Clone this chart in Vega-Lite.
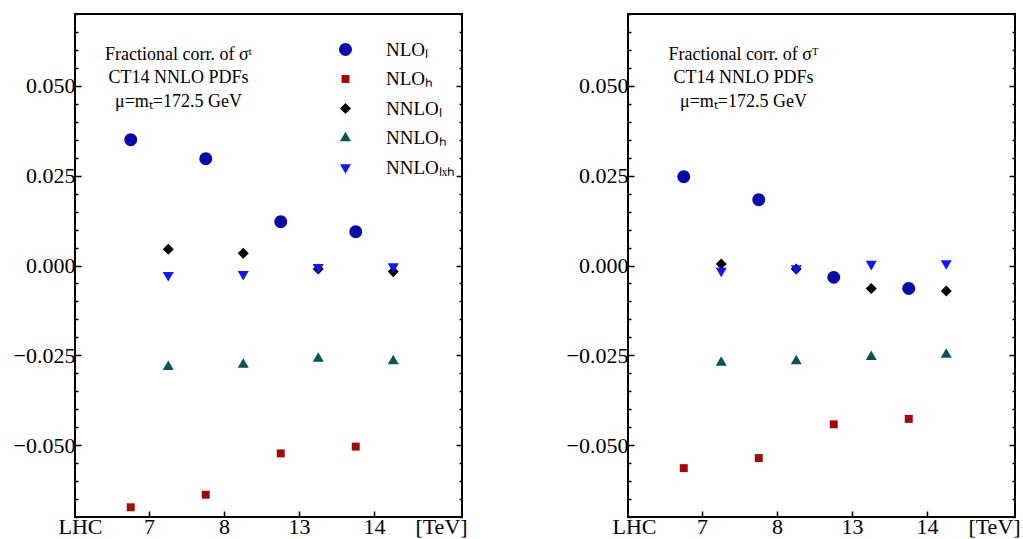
{
  "$schema": "https://vega.github.io/schema/vega-lite/v6.json",
  "background": "white",
  "padding": {"left": 12, "top": 12, "right": 5, "bottom": 0},
  "spacing": 39,
  "config": {
    "view": {"stroke": "black", "strokeWidth": 2},
    "font": "Liberation Serif",
    "axis": {"labelFont": "Liberation Serif", "labelFontSize": 22, "labelColor": "black", "domain": false, "grid": false, "title": null, "tickColor": "black", "tickWidth": 1.5},
    "legend": {"labelFont": "Liberation Serif", "labelFontSize": 19, "labelColor": "black"}
  },
  "datasets": {
    "corr": [
      {"panel": "t", "energy": "7", "order": "NLO", "series": "NLOₗ", "value": 0.0350},
      {"panel": "t", "energy": "8", "order": "NLO", "series": "NLOₗ", "value": 0.0297},
      {"panel": "t", "energy": "13", "order": "NLO", "series": "NLOₗ", "value": 0.0122},
      {"panel": "t", "energy": "14", "order": "NLO", "series": "NLOₗ", "value": 0.0094},
      {"panel": "t", "energy": "7", "order": "NLO", "series": "NLOₕ", "value": -0.0673},
      {"panel": "t", "energy": "8", "order": "NLO", "series": "NLOₕ", "value": -0.0638},
      {"panel": "t", "energy": "13", "order": "NLO", "series": "NLOₕ", "value": -0.0523},
      {"panel": "t", "energy": "14", "order": "NLO", "series": "NLOₕ", "value": -0.0504},
      {"panel": "t", "energy": "7", "order": "NNLO", "series": "NNLOₗ", "value": 0.0045},
      {"panel": "t", "energy": "8", "order": "NNLO", "series": "NNLOₗ", "value": 0.0034},
      {"panel": "t", "energy": "13", "order": "NNLO", "series": "NNLOₗ", "value": -0.0010},
      {"panel": "t", "energy": "14", "order": "NNLO", "series": "NNLOₗ", "value": -0.0017},
      {"panel": "t", "energy": "7", "order": "NNLO", "series": "NNLOₕ", "value": -0.0282},
      {"panel": "t", "energy": "8", "order": "NNLO", "series": "NNLOₕ", "value": -0.0276},
      {"panel": "t", "energy": "13", "order": "NNLO", "series": "NNLOₕ", "value": -0.0259},
      {"panel": "t", "energy": "14", "order": "NNLO", "series": "NNLOₕ", "value": -0.0266},
      {"panel": "t", "energy": "7", "order": "NNLO", "series": "NNLOₗₓₕ", "value": -0.0027},
      {"panel": "t", "energy": "8", "order": "NNLO", "series": "NNLOₗₓₕ", "value": -0.0024},
      {"panel": "t", "energy": "13", "order": "NNLO", "series": "NNLOₗₓₕ", "value": -0.0005},
      {"panel": "t", "energy": "14", "order": "NNLO", "series": "NNLOₗₓₕ", "value": -0.0003},
      {"panel": "T", "energy": "7", "order": "NLO", "series": "NLOₗ", "value": 0.0247},
      {"panel": "T", "energy": "8", "order": "NLO", "series": "NLOₗ", "value": 0.0183},
      {"panel": "T", "energy": "13", "order": "NLO", "series": "NLOₗ", "value": -0.0033},
      {"panel": "T", "energy": "14", "order": "NLO", "series": "NLOₗ", "value": -0.0064},
      {"panel": "T", "energy": "7", "order": "NLO", "series": "NLOₕ", "value": -0.0564},
      {"panel": "T", "energy": "8", "order": "NLO", "series": "NLOₕ", "value": -0.0536},
      {"panel": "T", "energy": "13", "order": "NLO", "series": "NLOₕ", "value": -0.0442},
      {"panel": "T", "energy": "14", "order": "NLO", "series": "NLOₕ", "value": -0.0427},
      {"panel": "T", "energy": "7", "order": "NNLO", "series": "NNLOₗ", "value": 0.0004},
      {"panel": "T", "energy": "8", "order": "NNLO", "series": "NNLOₗ", "value": -0.0010},
      {"panel": "T", "energy": "13", "order": "NNLO", "series": "NNLOₗ", "value": -0.0064},
      {"panel": "T", "energy": "14", "order": "NNLO", "series": "NNLOₗ", "value": -0.0071},
      {"panel": "T", "energy": "7", "order": "NNLO", "series": "NNLOₕ", "value": -0.0270},
      {"panel": "T", "energy": "8", "order": "NNLO", "series": "NNLOₕ", "value": -0.0266},
      {"panel": "T", "energy": "13", "order": "NNLO", "series": "NNLOₕ", "value": -0.0254},
      {"panel": "T", "energy": "14", "order": "NNLO", "series": "NNLOₕ", "value": -0.0248},
      {"panel": "T", "energy": "7", "order": "NNLO", "series": "NNLOₗₓₕ", "value": -0.0015},
      {"panel": "T", "energy": "8", "order": "NNLO", "series": "NNLOₗₓₕ", "value": -0.0008},
      {"panel": "T", "energy": "13", "order": "NNLO", "series": "NNLOₗₓₕ", "value": 0.0004},
      {"panel": "T", "energy": "14", "order": "NNLO", "series": "NNLOₗₓₕ", "value": 0.0006}
    ]
  },
  "hconcat": [
    {
      "width": 387,
      "height": 503,
      "resolve": {"scale": {"y": "independent"}, "axis": {"y": "independent"}},
      "layer": [
        {
          "data": {"name": "corr"},
          "transform": [{"filter": "datum.panel == 't'"}],
          "mark": {"type": "point", "filled": true, "opacity": 1, "size": 165},
          "encoding": {
            "x": {"field": "energy", "type": "nominal", "sort": null,
              "scale": {"domain": ["LHC", "7", "8", "13", "14", "[TeV]"], "range": [-38, 412], "paddingInner": 0, "paddingOuter": 0},
              "axis": {"labelAngle": 0, "tickSize": -6, "labelPadding": 5,
                "tickColor": {"condition": {"test": "datum.value == 'LHC' || datum.value == '[TeV]'", "value": "transparent"}, "value": "black"},
                "labelOffset": {"condition": [{"test": "datum.value == 'LHC'", "value": 6}, {"test": "datum.value == '[TeV]'", "value": -8}], "value": 0}}},
            "xOffset": {"field": "order", "type": "nominal", "scale": {"domain": ["NLO", "NNLO"]}},
            "y": {"field": "value", "type": "quantitative",
              "scale": {"domain": [-0.07, 0.07], "nice": false, "zero": false},
              "axis": {"values": [-0.07,-0.065,-0.06,-0.055,-0.05,-0.045,-0.04,-0.035,-0.03,-0.025,-0.02,-0.015,-0.01,-0.005,0,0.005,0.01,0.015,0.02,0.025,0.03,0.035,0.04,0.045,0.05,0.055,0.06,0.065,0.07],
                "labelExpr": "abs(datum.value*40 - round(datum.value*40)) < 0.001 ? format(datum.value, '.3f') : ''",
                "tickSize": {"condition": {"test": "abs(datum.value*40 - round(datum.value*40)) < 0.001", "value": -6}, "value": -3},
                "labelPadding": 6}},
            "color": {"field": "series", "type": "nominal",
              "scale": {"domain": ["NLOₗ", "NLOₕ", "NNLOₗ", "NNLOₕ", "NNLOₗₓₕ"], "range": ["#0a0aa8", "#a00a0a", "#000000", "#0a5550", "#1414ff"]},
              "legend": {"orient": "none", "legendX": 261, "legendY": 26, "title": null, "rowPadding": 9.5, "labelOffset": 31, "symbolOpacity": 1, "symbolSize": 165, "symbolStrokeWidth": 0}},
            "shape": {"field": "series", "type": "nominal",
              "scale": {"domain": ["NLOₗ", "NLOₕ", "NNLOₗ", "NNLOₕ", "NNLOₗₓₕ"], "range": ["M1,0A1,1,0,1,1,-1,0A1,1,0,1,1,1,0Z", "M-0.62,-0.62H0.62V0.62H-0.62Z", "M0,-0.86L0.86,0L0,0.86L-0.86,0Z", "M0,-0.99L0.86,0.5L-0.86,0.5Z", "M0,0.99L0.86,-0.5L-0.86,-0.5Z"]}}
          }
        },
        {
          "data": {"values": [{"caption": ["Fractional corr. of σᵗ", "CT14 NNLO PDFs", "μ=mₜ=172.5 GeV"]}]},
          "mark": {"type": "text", "font": "Liberation Serif", "fontSize": 18, "lineHeight": 23.5, "align": "center", "baseline": "alphabetic", "dx": 29, "color": "black"},
          "encoding": {
            "text": {"field": "caption"},
            "x": {"datum": "7", "type": "nominal", "scale": {"domain": ["LHC", "7", "8", "13", "14", "[TeV]"], "range": [-38, 412], "paddingInner": 0, "paddingOuter": 0}},
            "y": {"datum": 0.0572, "type": "quantitative",
              "scale": {"domain": [-0.07, 0.07], "nice": false, "zero": false},
              "axis": {"orient": "right", "labels": false,
                "values": [-0.07,-0.065,-0.06,-0.055,-0.05,-0.045,-0.04,-0.035,-0.03,-0.025,-0.02,-0.015,-0.01,-0.005,0,0.005,0.01,0.015,0.02,0.025,0.03,0.035,0.04,0.045,0.05,0.055,0.06,0.065,0.07],
                "tickSize": {"condition": {"test": "abs(datum.value*40 - round(datum.value*40)) < 0.001", "value": -6}, "value": -3}}}
          }
        }
      ]
    },
    {
      "width": 387,
      "height": 503,
      "resolve": {"scale": {"y": "independent"}, "axis": {"y": "independent"}},
      "layer": [
        {
          "data": {"name": "corr"},
          "transform": [{"filter": "datum.panel == 'T'"}],
          "mark": {"type": "point", "filled": true, "opacity": 1, "size": 165},
          "encoding": {
            "x": {"field": "energy", "type": "nominal", "sort": null,
              "scale": {"domain": ["LHC", "7", "8", "13", "14", "[TeV]"], "range": [-38, 412], "paddingInner": 0, "paddingOuter": 0},
              "axis": {"labelAngle": 0, "tickSize": -6, "labelPadding": 5,
                "tickColor": {"condition": {"test": "datum.value == 'LHC' || datum.value == '[TeV]'", "value": "transparent"}, "value": "black"},
                "labelOffset": {"condition": [{"test": "datum.value == 'LHC'", "value": 7}, {"test": "datum.value == '[TeV]'", "value": -8}], "value": 0}}},
            "xOffset": {"field": "order", "type": "nominal", "scale": {"domain": ["NLO", "NNLO"]}},
            "y": {"field": "value", "type": "quantitative",
              "scale": {"domain": [-0.07, 0.07], "nice": false, "zero": false},
              "axis": {"values": [-0.07,-0.065,-0.06,-0.055,-0.05,-0.045,-0.04,-0.035,-0.03,-0.025,-0.02,-0.015,-0.01,-0.005,0,0.005,0.01,0.015,0.02,0.025,0.03,0.035,0.04,0.045,0.05,0.055,0.06,0.065,0.07],
                "labelExpr": "abs(datum.value*40 - round(datum.value*40)) < 0.001 ? format(datum.value, '.3f') : ''",
                "tickSize": {"condition": {"test": "abs(datum.value*40 - round(datum.value*40)) < 0.001", "value": -6}, "value": -3},
                "labelPadding": 6}},
            "color": {"field": "series", "type": "nominal",
              "scale": {"domain": ["NLOₗ", "NLOₕ", "NNLOₗ", "NNLOₕ", "NNLOₗₓₕ"], "range": ["#0a0aa8", "#a00a0a", "#000000", "#0a5550", "#1414ff"]},
              "legend": {"orient": "none", "legendX": 262, "legendY": 26, "title": null, "rowPadding": 9.5, "labelOffset": 31, "symbolOpacity": 1, "symbolSize": 165, "symbolStrokeWidth": 0}},
            "shape": {"field": "series", "type": "nominal",
              "scale": {"domain": ["NLOₗ", "NLOₕ", "NNLOₗ", "NNLOₕ", "NNLOₗₓₕ"], "range": ["M1,0A1,1,0,1,1,-1,0A1,1,0,1,1,1,0Z", "M-0.62,-0.62H0.62V0.62H-0.62Z", "M0,-0.86L0.86,0L0,0.86L-0.86,0Z", "M0,-0.99L0.86,0.5L-0.86,0.5Z", "M0,0.99L0.86,-0.5L-0.86,-0.5Z"]}}
          }
        },
        {
          "data": {"values": [{"caption": ["Fractional corr. of σᵀ", "CT14 NNLO PDFs", "μ=mₜ=172.5 GeV"]}]},
          "mark": {"type": "text", "font": "Liberation Serif", "fontSize": 18, "lineHeight": 23.5, "align": "center", "baseline": "alphabetic", "dx": 41, "color": "black"},
          "encoding": {
            "text": {"field": "caption"},
            "x": {"datum": "7", "type": "nominal", "scale": {"domain": ["LHC", "7", "8", "13", "14", "[TeV]"], "range": [-38, 412], "paddingInner": 0, "paddingOuter": 0}},
            "y": {"datum": 0.0572, "type": "quantitative",
              "scale": {"domain": [-0.07, 0.07], "nice": false, "zero": false},
              "axis": {"orient": "right", "labels": false,
                "values": [-0.07,-0.065,-0.06,-0.055,-0.05,-0.045,-0.04,-0.035,-0.03,-0.025,-0.02,-0.015,-0.01,-0.005,0,0.005,0.01,0.015,0.02,0.025,0.03,0.035,0.04,0.045,0.05,0.055,0.06,0.065,0.07],
                "tickSize": {"condition": {"test": "abs(datum.value*40 - round(datum.value*40)) < 0.001", "value": -6}, "value": -3}}}
          }
        }
      ]
    }
  ]
}
